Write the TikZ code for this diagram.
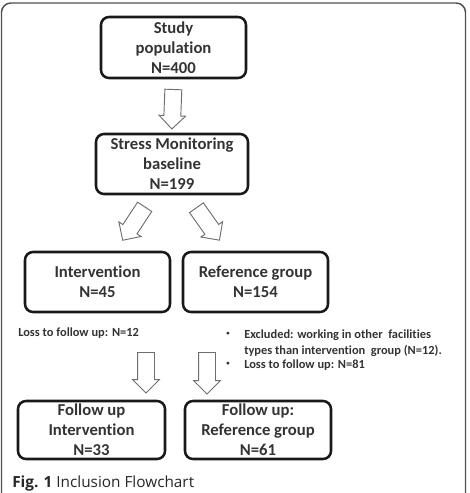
\documentclass[tikz,border=0pt]{standalone}
\usepackage{fontspec}
\setmainfont{Carlito}[RawFeature={-liga;-clig;-calt;-dlig}]
\newfontfamily\capfont{Open Sans}
\usetikzlibrary{calc,shapes.arrows}
\definecolor{boxtext}{HTML}{333333}
\definecolor{arrowgray}{HTML}{6E6E6E}
\definecolor{framegray}{HTML}{505050}

\tikzset{
  stage/.style={draw=black!90, line width=1.9pt, rounded corners=6pt, align=center,
    text=boxtext, font=\fontsize{12.5}{15}\selectfont\bfseries, inner sep=0pt},
  hollow/.style={single arrow, draw=arrowgray, line width=0.7pt, fill=white,
    inner xsep=0pt, inner ysep=6pt, single arrow head extend=3.6pt, single arrow head indent=0pt},
  note/.style={text=boxtext, font=\fontsize{9.3}{12}\selectfont\bfseries, inner sep=0pt}
}

% hollow block arrow between two points
\newcommand{\blockarrow}[2]{%
  \path let \p1=(#1), \p2=(#2), \n1={atan2(\y2-\y1,\x2-\x1)}, \n2={veclen(\x2-\x1,\y2-\y1)} in
    node[hollow, minimum height=\n2, rotate=\n1] at ($(\p1)!0.5!(\p2)$) {};%
}
\newcommand{\notedot}{\raisebox{2pt}{\tiny\textbullet}}

\begin{document}
\begin{tikzpicture}[x=0.75pt, y=-0.75pt]

  \clip (0,0) rectangle (469,493);
  %--- outer frame ---
  \draw[framegray, line width=1.1pt, rounded corners=7pt] (1.5,3) rectangle (465.5,520);

  %--- boxes ---
  \node[stage, minimum width=108.75pt, minimum height=45.75pt] (pop) at (173.5,47.5)
    {Study\\population\\N=400};
  \node[stage, minimum width=114pt, minimum height=45pt] (base) at (172,164)
    {Stress Monitoring\\baseline\\N=199};
  \node[stage, minimum width=108.75pt, minimum height=45pt] (int) at (97.5,282)
    {Intervention\\N=45};
  \node[stage, minimum width=108.75pt, minimum height=45pt] (ref) at (255.5,282)
    {Reference group\\N=154};
  \node[stage, minimum width=110.25pt, minimum height=43.5pt] (fint) at (91.5,430)
    {Follow up\\Intervention\\N=33};
  \node[stage, minimum width=109.5pt, minimum height=43.5pt] (fref) at (258,430)
    {Follow up:\\Reference group\\N=61};

  %--- side notes ---
  \node[note, anchor=west] (lossint) at (18,333) {Loss to follow up: N=12};
  \node[note, anchor=north west] (lossref) at (226,327)
    {\begin{tabular}{@{}l@{\hspace{11pt}}l@{}}
       \notedot & Excluded: working in other\ \ facilities\\
                & types than intervention\ \ group (N=12).\\[-1.5pt]
       \notedot & Loss to follow up: N=81
     \end{tabular}};

  %--- arrows ---
  \blockarrow{$(pop.south)+(0,6)$}{$(base.north)+(0,-8)$}
  \blockarrow{$(base.south)+(-25,8)$}{$(int.north)+(27.5,-14)$}
  \blockarrow{$(base.south)+(22,9)$}{$(ref.north)+(-38.5,-14)$}
  \blockarrow{$(int.south)+(48.5,35)$}{$(fint.north)+(54.5,-11)$}
  \blockarrow{$(ref.south)+(-48.5,35)$}{$(fref.north)+(-51,-10)$}

  %--- caption ---
  \node[anchor=base west, inner sep=0pt, text=black!85, font=\capfont\fontsize{11.5}{14}\selectfont] (cap)
    at (12,487) {\textbf{Fig. 1} Inclusion Flowchart};

\end{tikzpicture}
\end{document}
